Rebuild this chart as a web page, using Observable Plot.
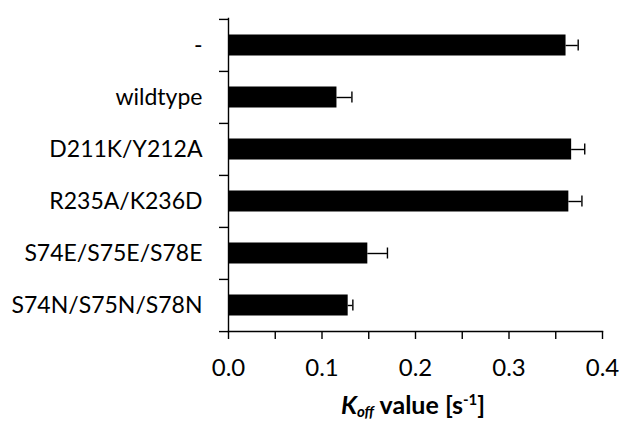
<!DOCTYPE html>
<html>
<head>
<meta charset="utf-8">
<script src="https://cdn.jsdelivr.net/npm/d3@7"></script>
<script src="https://cdn.jsdelivr.net/npm/@observablehq/plot@0.6"></script>
<style>
  html, body { margin: 0; padding: 0; background: #fff; }
  #chart { width: 620px; height: 388px; }
  #xlabel { width: 620px; height: 34px; position: relative; overflow: visible; font-family: Lato, "Open Sans", sans-serif; font-weight: bold; font-size: 25px; color: #000; }
  #xlabel span.t { position: absolute; left: 413px; transform: translateX(-50%); top: 2px; line-height: 28px; white-space: nowrap; }
  #xlabel sub { font-size: 15px; vertical-align: -3px; line-height: 0; }
  #xlabel sup { font-size: 15px; vertical-align: 9px; line-height: 0; }
</style>
</head>
<body>
<div id="chart"></div>
<div id="xlabel"><span class="t"><i>K<sub>off</sub></i> value [s<sup>-1</sup>]</span></div>
<script>
const categories = ["-", "wildtype", "D211K/Y212A", "R235A/K236D", "S74E/S75E/S78E", "S74N/S75N/S78N"];
const values = [0.361, 0.116, 0.367, 0.364, 0.149, 0.128];
const errors = [0.013, 0.016, 0.014, 0.014, 0.021, 0.005];
const xTicks = [0, 0.1, 0.2, 0.3, 0.4];
const xMinorTicks = [0, 0.05, 0.1, 0.15, 0.2, 0.25, 0.3, 0.35, 0.4];

const data = categories.map((c, i) => ({cat: c, v: values[i], e: errors[i]}));

const marginTop = 18, marginBottom = 57, H = 388;
const step = (H - marginTop - marginBottom) / categories.length;

const chart = Plot.plot({
  width: 620,
  height: H,
  marginLeft: 228,
  marginRight: 18,
  marginTop,
  marginBottom,
  style: {fontFamily: "Lato, 'Open Sans', sans-serif", fontSize: "23px", color: "#000", background: "#fff"},
  x: {domain: [0, 0.4]},
  y: {domain: categories, padding: 0},
  marks: [
    Plot.barX(data, {y: "cat", x: "v", fill: "#000", insetTop: 15.5, insetBottom: 15.5}),
    Plot.ruleY(data, {y: "cat", x1: "v", x2: d => d.v + d.e, stroke: "#000", strokeWidth: 1.4}),
    Plot.tickX(data, {y: "cat", x: d => d.v + d.e, stroke: "#000", strokeWidth: 1.4, insetTop: 20.5, insetBottom: 20.5}),
    Plot.frame({anchor: "left", stroke: "#000", strokeWidth: 1.4}),
    Plot.frame({anchor: "bottom", stroke: "#000", strokeWidth: 1.4}),
    Plot.ruleY(categories, {y: d => d, x1: 0, x2: 0, insetLeft: -9, dy: -step / 2, stroke: "#000", strokeWidth: 1.4}),
    Plot.ruleY([categories[categories.length - 1]], {y: d => d, x1: 0, x2: 0, insetLeft: -9, dy: step / 2, stroke: "#000", strokeWidth: 1.4}),
    Plot.axisY({tickSize: 0, tickPadding: 26, label: null, fontSize: 23}),
    Plot.axisX({ticks: xMinorTicks, tickSize: 8, tickFormat: () => "", label: null, strokeWidth: 1.4}),
    Plot.axisX({ticks: xTicks, tickSize: 0, tickPadding: 27, tickFormat: d3.format(".1f"), label: null, fontSize: 24})
  ]
});
document.getElementById("chart").appendChild(chart);
</script>
</body>
</html>
